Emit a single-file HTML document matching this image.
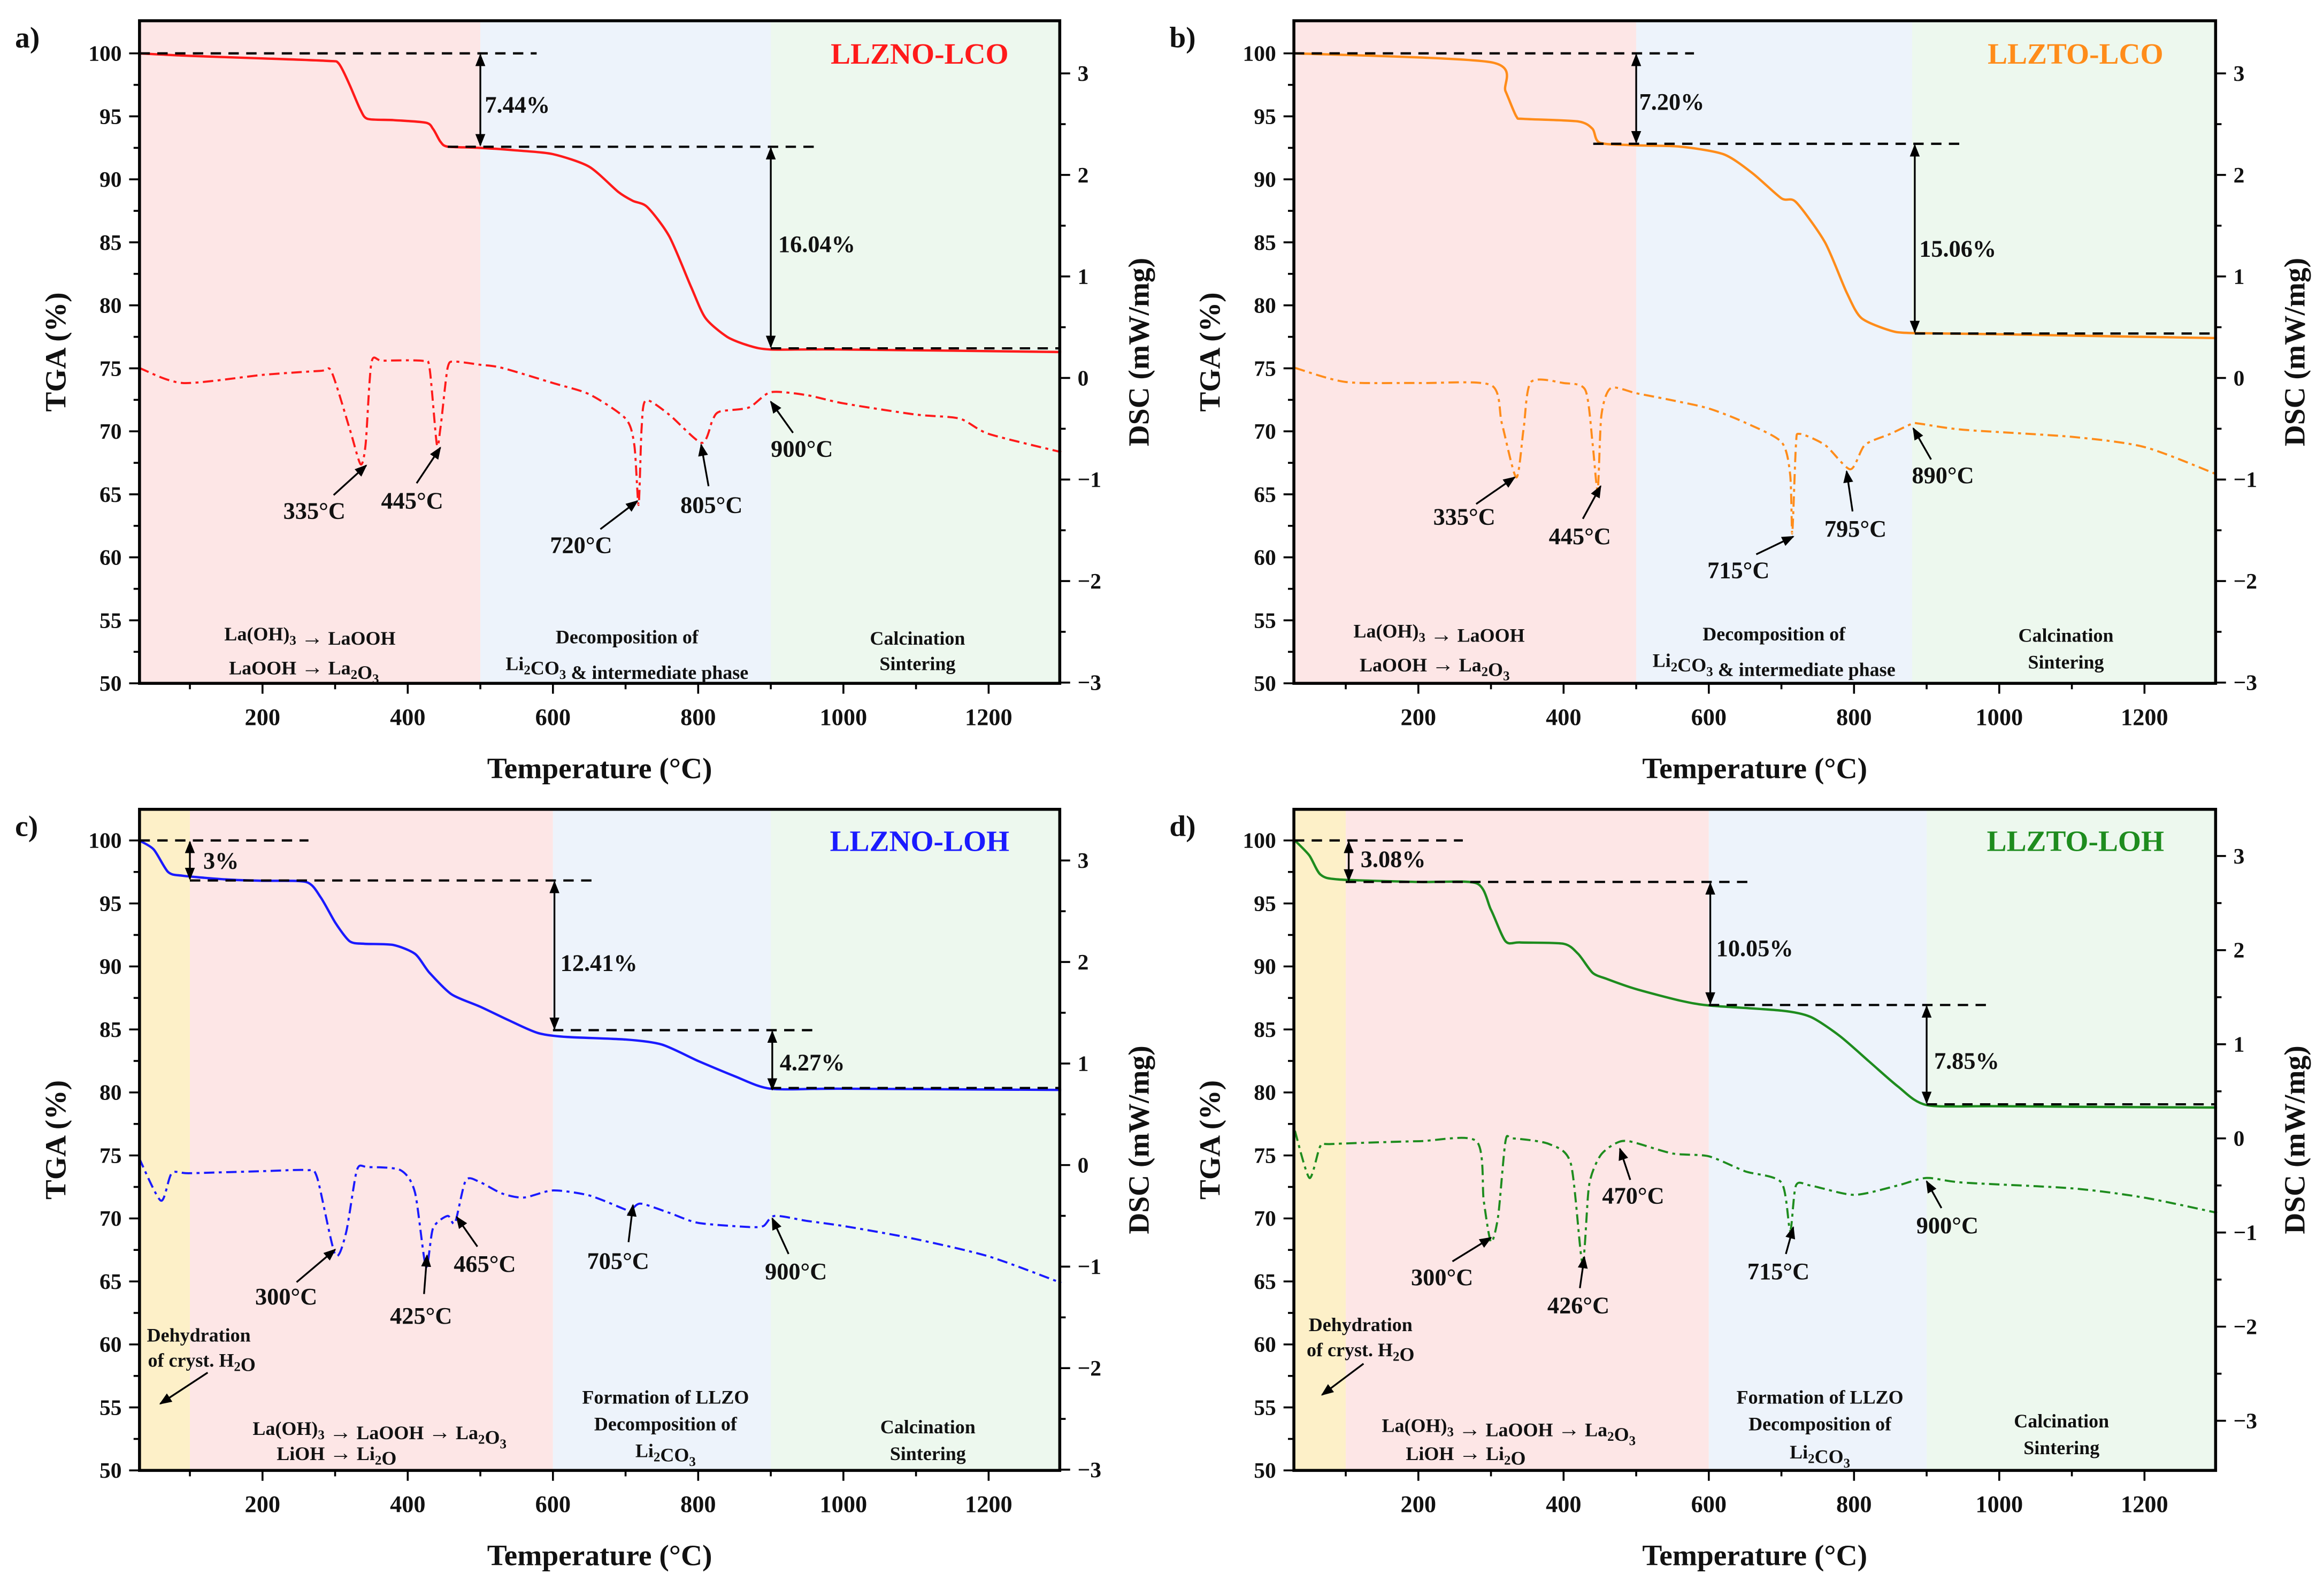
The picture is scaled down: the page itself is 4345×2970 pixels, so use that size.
<!DOCTYPE html>
<html><head><meta charset="utf-8"><style>
html,body{margin:0;padding:0;background:#fff}
svg{display:block}
text{font-family:"Liberation Serif",serif;font-weight:bold;fill:#111}
</style></head><body>
<svg id="fig" xmlns="http://www.w3.org/2000/svg" width="4345" height="2970" viewBox="0 0 1568 1072">
<defs>
<marker id="ah" viewBox="0 0 10 10" refX="9" refY="5" markerWidth="7" markerHeight="7" orient="auto-start-reverse"><path d="M0,1 L10,5 L0,9 Z" fill="#000"/></marker>
</defs>
</svg>
<script>
// ---- data (temperature °C, TGA %, DSC mW/mg) ----
const aT=[30,100,200,290,305,320,335,345,380,425,435,445,455,500,550,600,650,690,710,730,760,790,810,840,870,900,1000,1300];
const aTGA=[100,99.8,99.6,99.4,99.2,97.5,95.5,94.8,94.7,94.5,94,93,92.6,92.5,92.3,92,91,89,88.3,87.8,85.5,81.5,79,77.5,76.8,76.5,76.5,76.3];
const aDT=[30,90,200,280,295,320,335,342,350,365,420,430,440,445,455,465,500,530,600,650,700,712,718,722,728,760,805,820,830,870,900,950,1000,1100,1160,1200,1300];
const aDSC=[0.1,-0.05,0.03,0.07,0.06,-0.5,-0.85,-0.65,0.15,0.17,0.17,0.1,-0.65,-0.5,0.1,0.16,0.13,0.1,-0.05,-0.16,-0.4,-0.66,-1.25,-0.5,-0.22,-0.36,-0.64,-0.41,-0.33,-0.29,-0.14,-0.17,-0.25,-0.36,-0.4,-0.55,-0.73];

const bT=[30,300,320,335,345,420,440,450,500,560,620,660,700,720,760,790,810,850,880,1000,1300];
const bTGA=[100,99.3,97,95,94.8,94.6,94,92.9,92.7,92.6,92,90.5,88.5,88.2,85,81,79,78,77.8,77.7,77.4];
const bDT=[30,100,200,300,315,335,345,355,400,430,440,447,452,465,500,550,600,650,700,712,715,720,725,760,795,815,850,880,890,950,1100,1200,1300];
const bDSC=[0.1,-0.04,-0.05,-0.07,-0.45,-0.98,-0.5,-0.04,-0.05,-0.12,-0.65,-1.1,-0.37,-0.1,-0.15,-0.22,-0.3,-0.44,-0.63,-0.95,-1.53,-0.66,-0.55,-0.66,-0.9,-0.66,-0.55,-0.45,-0.45,-0.51,-0.58,-0.68,-0.95];

const cT=[30,50,70,90,150,200,260,280,300,320,340,380,410,430,460,500,540,580,620,700,750,800,850,900,1000,1300];
const cTGA=[100,99.3,97.5,97.2,96.9,96.8,96.7,95.5,93.5,92,91.8,91.7,91,89.5,87.8,86.8,85.7,84.7,84.4,84.2,83.8,82.5,81.3,80.3,80.3,80.2];
const cDT=[30,60,75,100,200,260,275,300,315,330,345,390,410,425,435,455,465,480,500,530,560,600,650,700,705,720,760,800,870,890,905,950,1000,1100,1200,1300];
const cDSC=[0.07,-0.35,-0.08,-0.08,-0.06,-0.05,-0.12,-0.88,-0.67,-0.05,-0.02,-0.05,-0.27,-1.0,-0.62,-0.5,-0.57,-0.15,-0.17,-0.28,-0.32,-0.25,-0.3,-0.44,-0.47,-0.38,-0.47,-0.57,-0.61,-0.6,-0.5,-0.55,-0.6,-0.73,-0.9,-1.16];

const dT=[30,50,65,90,200,280,300,320,340,400,420,440,460,500,560,600,700,740,780,820,860,900,1000,1300];
const dTGA=[100,98.8,97.3,96.9,96.7,96.6,94.5,92,91.9,91.8,91,89.5,89,88.2,87.3,86.9,86.5,86,84.5,82.5,80.5,79,78.9,78.8];
const dDT=[30,50,65,80,200,280,290,300,310,320,330,380,410,426,435,450,470,490,550,600,650,700,712,720,740,800,860,900,950,1100,1200,1300];
const dDSC=[0.08,-0.42,-0.08,-0.06,-0.03,-0.03,-0.66,-1.1,-0.82,-0.03,0,-0.06,-0.27,-1.32,-0.5,-0.19,-0.06,-0.03,-0.16,-0.19,-0.35,-0.47,-0.98,-0.5,-0.5,-0.6,-0.5,-0.42,-0.47,-0.53,-0.63,-0.79];

const xTicks=[200,400,600,800,1000,1200];
const yTicks=[50,55,60,65,70,75,80,85,90,95,100];
const dscTicks=[-3,-2,-1,0,1,2,3];

const NS="http://www.w3.org/2000/svg";
const svg=document.getElementById('fig');
function el(tag,attrs,parent){const e=document.createElementNS(NS,tag);for(const k in attrs)e.setAttribute(k,attrs[k]);(parent||svg).appendChild(e);return e;}
function txt(parent,x,y,s,size,anchor,fill){const t=el('text',{x:x,y:y,'font-size':size,'text-anchor':anchor||'middle'},parent);if(fill)t.setAttribute('style','fill:'+fill);t.innerHTML=s;return t;}
const sub=s=>'<tspan dy="3" font-size="9">'+s+'</tspan><tspan dy="-3"></tspan>';
const AR='<tspan font-size="15">\u2192</tspan>';
function smooth(pts){
  let d='M'+pts[0][0].toFixed(1)+','+pts[0][1].toFixed(1);
  for(let i=0;i<pts.length-1;i++){
    const p0=pts[i-1]||pts[i],p1=pts[i],p2=pts[i+1],p3=pts[i+2]||p2;
    const c1=[p1[0]+(p2[0]-p0[0])/8,p1[1]+(p2[1]-p0[1])/8];
    const c2=[p2[0]-(p3[0]-p1[0])/8,p2[1]-(p3[1]-p1[1])/8];
    d+='C'+c1[0].toFixed(1)+','+c1[1].toFixed(1)+' '+c2[0].toFixed(1)+','+c2[1].toFixed(1)+' '+p2[0].toFixed(1)+','+p2[1].toFixed(1);
  }
  return d;
}

const panels=[
 {id:'a',x0:94,x1:715,y0:14,y1:461,xo:79,yt:36,dz:255,du:68.5,T:aT,G:aTGA,DT:aDT,D:aDSC,col:'#ff1a1a',title:'LLZNO-LCO',
  regions:[[30,500,'#fde6e6'],[500,900,'#edf3fb'],[900,1300,'#edf8ee']]},
 {id:'b',x0:873,x1:1495,y0:14,y1:461,xo:859,yt:36,dz:255,du:68.5,T:bT,G:bTGA,DT:bDT,D:bDSC,col:'#ff8c1a',title:'LLZTO-LCO',
  regions:[[30,500,'#fde6e6'],[500,880,'#edf3fb'],[880,1300,'#edf8ee']]},
 {id:'c',x0:94,x1:715,y0:546,y1:992,xo:79,yt:567,dz:786,du:68.5,T:cT,G:cTGA,DT:cDT,D:cDSC,col:'#1a1aff',title:'LLZNO-LOH',
  regions:[[30,100,'#fdf0c8'],[100,600,'#fde6e6'],[600,900,'#edf3fb'],[900,1300,'#edf8ee']]},
 {id:'d',x0:873,x1:1495,y0:546,y1:992,xo:859,yt:567,dz:768,du:63.5,T:dT,G:dTGA,DT:dDT,D:dDSC,col:'#1e8c1e',title:'LLZTO-LOH',
  regions:[[30,100,'#fdf0c8'],[100,600,'#fde6e6'],[600,900,'#edf3fb'],[900,1300,'#edf8ee']]}
];

panels.forEach(p=>{
  const g=el('g',{});
  
  
  const X=t=>p.xo+t*0.49, Y=v=>p.yt+(100-v)*8.5, YD=v=>p.dz-v*p.du;
  const cx=(p.x0+p.x1)/2;
  p.regions.forEach(r=>{
    const rc=el('rect',{x:Math.max(p.x0,X(r[0])),y:p.y0,width:Math.min(p.x1,X(r[1]))-Math.max(p.x0,X(r[0])),height:p.y1-p.y0,fill:r[2]},g);
    
    
  });
  const tg=el('path',{d:smooth(p.T.map((t,i)=>[X(t),Y(p.G[i])])),fill:'none',stroke:p.col,'stroke-width':1.6},g);
  
  
  const ds=el('path',{d:smooth(p.DT.map((t,i)=>[X(t),YD(p.D[i])])),fill:'none',stroke:p.col,'stroke-width':1.4,'stroke-dasharray':'7,3,2,3','stroke-linejoin':'round'},g);
  
  
  const fr=el('rect',{x:p.x0,y:p.y0,width:p.x1-p.x0,height:p.y1-p.y0,fill:'none',stroke:'#000','stroke-width':2},g);
  
  
  for(let t=100;t<=1300;t+=100){const x=X(t);if(x<p.x0||x>p.x1)continue;el('line',{x1:x,y1:p.y1,x2:x,y2:p.y1+(t%200?4:7),stroke:'#000','stroke-width':1.3},g);}
  xTicks.forEach(t=>{const lt=txt(g,X(t),p.y1+28,t,16);});
  for(let v=50;v<=100;v+=2.5){const y=Y(v);el('line',{x1:p.x0,y1:y,x2:p.x0-(v%5?4:7),y2:y,stroke:'#000','stroke-width':1.3},g);}
  yTicks.forEach(v=>{const lt=txt(g,p.x0-12,Y(v)+5,v,15,'end');});
  for(let v=-3;v<=3;v+=0.5){const y=YD(v);el('line',{x1:p.x1,y1:y,x2:p.x1+(v%1?4:7),y2:y,stroke:'#000','stroke-width':1.3},g);}
  dscTicks.forEach(v=>{const lt=txt(g,p.x1+12,YD(v)+5,v<0?'\u2212'+(-v):v,15,'start');});
  const xt=txt(g,cx,p.y1+64,'Temperature (°C)',20);
  const yt=txt(g,0,0,'TGA (%)',20);yt.setAttribute('transform','translate('+(p.x0-50)+','+((p.y0+p.y1)/2)+') rotate(-90)');
  const dt=txt(g,0,0,'DSC (mW/mg)',20);dt.setAttribute('transform','translate('+(p.x1+60)+','+((p.y0+p.y1)/2)+') rotate(-90)');
  const pl=txt(g,p.x0-84,p.y0+18,p.id+')',20,'start');
  const st=txt(g,X(1105),p.yt+7,p.title,20,'middle',p.col);
});

function dash(x1,y,x2){const l=el('line',{x1:x1,y1:y,x2:x2,y2:y,stroke:'#000','stroke-width':1.5,'stroke-dasharray':'7,5'});}
function varrow(x,y1,y2){const l=el('line',{x1:x,y1:y1,x2:x,y2:y2,stroke:'#000','stroke-width':1.2,'marker-start':'url(#ah)','marker-end':'url(#ah)'});}
function arr(x1,y1,x2,y2){const l=el('line',{x1:x1,y1:y1,x2:x2,y2:y2,stroke:'#000','stroke-width':1.2,'marker-end':'url(#ah)'});}
function lab(x,y,s,size,anchor,name){const t=txt(svg,x,y,s,size||16,anchor||'middle');}

// a
dash(94,36,362);dash(302,99,550);dash(520,235,715);
varrow(324,37,98);varrow(520,100,234);
lab(327,76,'7.44%',16,'start','mass-loss-label');lab(525,170,'16.04%',16,'start','mass-loss-label');
lab(212,350,'335°C');arr(225,334,247,314);lab(278,343,'445°C');arr(281,326,297,302);
lab(392,373,'720°C');arr(405,357,430,338);lab(480,346,'805°C');arr(478,328,473,300);lab(541,308,'900°C');arr(535,292,520,271);
lab(209,432,'La(OH)'+sub('3')+' '+AR+' LaOOH',13);lab(205,455,'LaOOH '+AR+' La'+sub('2')+'O'+sub('3'),13);
lab(423,434,'Decomposition of',13);lab(423,452,'Li'+sub('2')+'CO'+sub('3')+' &amp; intermediate phase',13);
lab(619,435,'Calcination',13);lab(619,452,'Sintering',13);
// b
dash(873,36,1143);dash(1075,97,1325);dash(1292,225,1495);
varrow(1104,37,96);varrow(1292,98,224);
lab(1106,74,'7.20%',16,'start','mass-loss-label');lab(1295,173,'15.06%',16,'start','mass-loss-label');
lab(988,354,'335°C');arr(996,340,1022,322);lab(1066,367,'445°C');arr(1068,350,1080,328);
lab(1173,390,'715°C');arr(1185,374,1210,362);lab(1252,362,'795°C');arr(1250,345,1246,318);lab(1311,326,'890°C');arr(1303,310,1291,289);
lab(971,430,'La(OH)'+sub('3')+' '+AR+' LaOOH',13);lab(968,453,'LaOOH '+AR+' La'+sub('2')+'O'+sub('3'),13);
lab(1197,432,'Decomposition of',13);lab(1197,450,'Li'+sub('2')+'CO'+sub('3')+' &amp; intermediate phase',13);
lab(1394,433,'Calcination',13);lab(1394,451,'Sintering',13);
// c
dash(94,567,208);dash(128,594,400);dash(373,695,553);dash(520,734,715);
varrow(128,568,593);varrow(374,595,694);varrow(521,696,735);
lab(137,586,'3%',16,'start','mass-loss-label');lab(378,655,'12.41%',16,'start','mass-loss-label');lab(526,722,'4.27%',16,'start','mass-loss-label');
lab(193,880,'300°C');arr(200,865,226,843);lab(284,893,'425°C');arr(286,873,288,847);lab(327,858,'465°C');arr(322,841,308,821);
lab(417,856,'705°C');arr(424,838,427,813);lab(537,863,'900°C');arr(532,846,521,822);
lab(134,905,'Dehydration',13);lab(136,922,'of cryst. H'+sub('2')+'O',13);arr(140,926,108,947);
lab(256,968,'La(OH)'+sub('3')+' '+AR+' LaOOH '+AR+' La'+sub('2')+'O'+sub('3'),13);lab(227,985,'LiOH '+AR+' Li'+sub('2')+'O',13);
lab(449,947,'Formation of LLZO',13);lab(449,965,'Decomposition of',13);lab(449,983,'Li'+sub('2')+'CO'+sub('3'),13);
lab(626,967,'Calcination',13);lab(626,985,'Sintering',13);
// d
dash(873,567,987);dash(908,595,1180);dash(1153,678,1345);dash(1300,745,1495);
varrow(910,568,594);varrow(1154,596,677);varrow(1300,679,744);
lab(918,585,'3.08%',16,'start','mass-loss-label');lab(1158,645,'10.05%',16,'start','mass-loss-label');lab(1305,721,'7.85%',16,'start','mass-loss-label');
lab(973,867,'300°C');arr(980,851,1006,835);lab(1065,886,'426°C');arr(1066,869,1069,848);lab(1102,812,'470°C');arr(1100,796,1093,775);
lab(1200,863,'715°C');arr(1205,846,1210,828);lab(1314,832,'900°C');arr(1310,815,1300,797);
lab(918,898,'Dehydration',13);lab(918,915,'of cryst. H'+sub('2')+'O',13);arr(920,920,892,941);
lab(1018,966,'La(OH)'+sub('3')+' '+AR+' LaOOH '+AR+' La'+sub('2')+'O'+sub('3'),13);lab(989,985,'LiOH '+AR+' Li'+sub('2')+'O',13);
lab(1228,947,'Formation of LLZO',13);lab(1228,965,'Decomposition of',13);lab(1228,984,'Li'+sub('2')+'CO'+sub('3'),13);
lab(1391,963,'Calcination',13);lab(1391,981,'Sintering',13);
</script>
</body></html>
